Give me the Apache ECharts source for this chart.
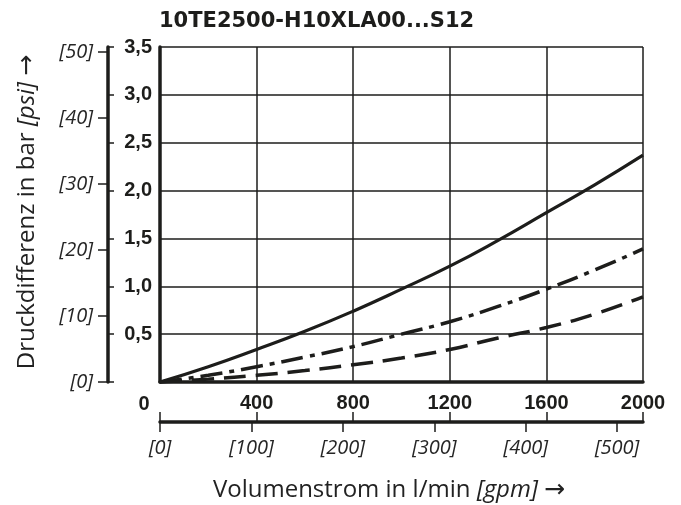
<!DOCTYPE html>
<html>
<head>
<meta charset="utf-8">
<script src="https://cdn.jsdelivr.net/npm/echarts@6/dist/echarts.min.js"></script>
<style>
html,body{margin:0;padding:0;background:#fff;}
#c{width:681px;height:505px;}
</style>
</head>
<body>
<div id="c"></div>
<script>
// ---- data ----
const chartTitle = '10TE2500-H10XLA00...S12';
const flowLpm = [0, 200, 400, 600, 800, 1000, 1200, 1400, 1600, 1800, 2000];
const curveSolid = [0, 0.16, 0.34, 0.53, 0.74, 0.97, 1.21, 1.48, 1.77, 2.06, 2.37];
const curveDashDot = [0, 0.07, 0.16, 0.26, 0.37, 0.50, 0.63, 0.79, 0.97, 1.17, 1.39];
const curveDashed = [0, 0.03, 0.07, 0.12, 0.18, 0.25, 0.34, 0.46, 0.57, 0.71, 0.89];
const gpmTicks = [0, 100, 200, 300, 400, 500];
const psiTicks = [0, 10, 20, 30, 40, 50];
const LPM_PER_GPM = 3.785411784;
const PSI_PER_BAR = 14.5037738;

const INK = '#1d1d1b';
const chart = echarts.init(document.getElementById('c'));

function pairs(ys) { return flowLpm.map((x, i) => [x, ys[i]]); }

const boldNum = { fontFamily: 'Liberation Sans', fontWeight: 'bold', fontSize: 20, color: INK };
const italicLbl = { fontFamily: 'Open Sans', fontStyle: 'italic', fontSize: 20, color: '#262626' };
const nameRich = {
  i: { fontFamily: 'Open Sans', fontStyle: 'italic', fontSize: 24, fill: '#222' },
  a: { fontFamily: 'DejaVu Sans', fontSize: 25, fill: '#222' }
};

chart.setOption({
  animation: false,
  backgroundColor: '#fff',
  title: {
    text: chartTitle, left: 154, top: 6,
    textStyle: { fontFamily: 'DejaVu Sans', fontWeight: 'bold', fontSize: 21, color: INK }
  },
  grid: { left: 160, right: 38, top: 47, bottom: 123, containLabel: false },
  xAxis: [
    { type: 'value', min: 0, max: 2000, interval: 400, position: 'bottom',
      axisLine: { show: true, lineStyle: { color: INK, width: 3.5 } },
      axisTick: { show: false },
      axisLabel: Object.assign({ margin: 11, formatter: v => v === 0 ? '' : String(v) }, boldNum),
      splitLine: { show: true, lineStyle: { color: INK, width: 1.5 } } },
    { type: 'value', min: 0, max: 2000 / LPM_PER_GPM, position: 'bottom', offset: 40,
      axisLine: { show: true, onZero: false, lineStyle: { color: INK, width: 3.5 } },
      axisTick: { show: true, length: 10, customValues: gpmTicks, lineStyle: { color: INK, width: 1.5 } },
      axisLabel: Object.assign({ margin: 16, customValues: gpmTicks, formatter: v => '[' + v + ']' }, italicLbl),
      splitLine: { show: false } },
    { type: 'value', min: 0, max: 2000, interval: 400, position: 'bottom', offset: 40,
      axisLine: { show: false, onZero: false },
      axisTick: { show: true, inside: true, length: 10, lineStyle: { color: INK, width: 1.5 } },
      axisLabel: { show: false },
      splitLine: { show: false } }
  ],
  yAxis: [
    { type: 'value', min: 0, max: 3.5, interval: 0.5, position: 'left',
      axisLine: { show: true, lineStyle: { color: INK, width: 3.5 } },
      axisTick: { show: false },
      axisLabel: Object.assign({ margin: 8, formatter: v => v === 0 ? '' : v.toFixed(1).replace('.', ',') }, boldNum),
      splitLine: { show: true, lineStyle: { color: INK, width: 1.5 } } },
    { type: 'value', min: 0, max: 3.5 * PSI_PER_BAR, position: 'left', offset: 52,
      axisLine: { show: true, onZero: false, lineStyle: { color: INK, width: 3.5 } },
      axisTick: { show: true, length: 10, customValues: psiTicks, lineStyle: { color: INK, width: 1.5 } },
      axisLabel: Object.assign({ margin: 15, customValues: psiTicks, formatter: v => '[' + v + ']' }, italicLbl),
      splitLine: { show: false } },
    { type: 'value', min: 0, max: 3.5, interval: 0.5, position: 'left', offset: 52,
      axisLine: { show: false, onZero: false },
      axisTick: { show: true, inside: true, length: 6, lineStyle: { color: INK, width: 1.5 } },
      axisLabel: { show: false },
      splitLine: { show: false } }
  ],
  graphic: [
    { type: 'text', x: 144, y: 404,
      style: { text: '0', fill: INK, align: 'center', verticalAlign: 'middle', font: 'bold 20px "Liberation Sans"' } },
    { type: 'text', x: 27, y: 212, rotation: Math.PI / 2,
      style: { text: 'Druckdifferenz in bar {i|[psi]} {a|→}', fill: '#222', align: 'center', verticalAlign: 'middle',
        font: '24px "Open Sans"', rich: nameRich } },
    { type: 'text', x: 389, y: 490,
      style: { text: 'Volumenstrom in l/min {i|[gpm]} {a|→}', fill: '#222', align: 'center', verticalAlign: 'middle',
        font: '24px "Open Sans"', rich: nameRich } }
  ],
  series: [
    { type: 'line', xAxisIndex: 0, yAxisIndex: 0, data: pairs(curveSolid), smooth: true, showSymbol: false,
      lineStyle: { color: INK, width: 3.2 } },
    { type: 'line', xAxisIndex: 0, yAxisIndex: 0, data: pairs(curveDashDot), smooth: true, showSymbol: false,
      lineStyle: { color: INK, width: 3.5, type: [22, 7, 5, 7] } },
    { type: 'line', xAxisIndex: 0, yAxisIndex: 0, data: pairs(curveDashed), smooth: true, showSymbol: false,
      lineStyle: { color: INK, width: 3.5, type: [22, 10] } }
  ]
});
</script>
</body>
</html>
